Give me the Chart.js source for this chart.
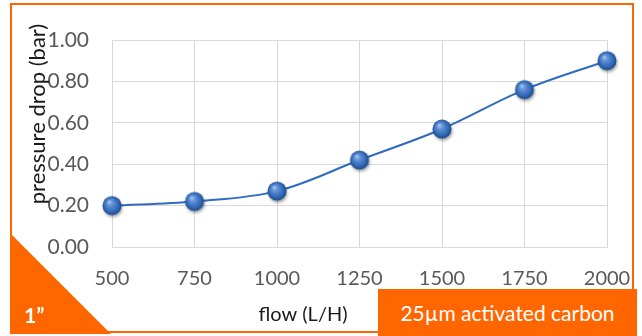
<!DOCTYPE html>
<html>
<head>
<meta charset="utf-8">
<script src="https://cdn.jsdelivr.net/npm/chart.js@4/dist/chart.umd.min.js"></script>
<style>
  html, body { margin: 0; padding: 0; background: #fff; }
  #wrap { position: relative; width: 642px; height: 336px; overflow: hidden; font-family: Lato, "Open Sans", sans-serif; }
  #chart { position: absolute; left: 0; top: 0; }
  #frame { position: absolute; left: 10px; top: 3px; width: 620px; height: 326px; border: 2.5px solid #FF6600; }
  #corner { position: absolute; left: 10px; top: 233px; width: 101px; height: 101px; background: #FF6600;
            clip-path: polygon(0 0, 0 100%, 100% 100%); }
  #size { position: absolute; left: 24px; top: 302px; color: #fff; font-size: 21px; font-weight: bold; }
  #media { position: absolute; left: 378px; top: 289px; width: 259px; height: 47px; background: #FF6600;
           color: #fff; font-size: 21px; line-height: 47px; text-align: center; }
</style>
</head>
<body>
<div id="wrap">
  <div id="frame"></div>
  <canvas id="chart" width="642" height="336"></canvas>
  <div id="corner"></div>
  <div id="size">1”</div>
  <div id="media">25µm activated carbon</div>
</div>
<script>
const flowLabels = ['500', '750', '1000', '1250', '1500', '1750', '2000'];
const pressureDrop = [0.20, 0.22, 0.27, 0.42, 0.57, 0.76, 0.90];
const xTitle = 'flow (L/H)';
const yTitle = 'pressure drop (bar)';

// shaded sphere used as marker
function makeSphere() {
  const c = document.createElement('canvas');
  c.width = 28; c.height = 28;
  const g = c.getContext('2d');
  g.save();
  g.shadowColor = 'rgba(0,0,0,0.35)';
  g.shadowBlur = 3;
  g.shadowOffsetX = 1;
  g.shadowOffsetY = 2;
  const grad = g.createRadialGradient(11, 10, 0, 14, 14, 10);
  grad.addColorStop(0, '#B4CDF0');
  grad.addColorStop(0.3, '#5F92D8');
  grad.addColorStop(0.75, '#2F65B2');
  grad.addColorStop(1, '#1C467F');
  g.fillStyle = grad;
  g.beginPath();
  g.arc(14, 14, 9.5, 0, Math.PI * 2);
  g.fill();
  g.restore();
  return c;
}

const titles = {
  id: 'titles',
  afterDraw(chart) {
    const ctx = chart.ctx;
    ctx.save();
    ctx.fillStyle = '#1a1a1a';
    ctx.font = '20px Lato';
    ctx.textAlign = 'center';
    ctx.textBaseline = 'middle';
    ctx.fillText(xTitle, 303, 315);
    ctx.font = '22px Lato';
    ctx.translate(38, 114);
    ctx.rotate(-Math.PI / 2);
    ctx.fillText(yTitle, 0, 0);
    ctx.restore();
  }
};

new Chart(document.getElementById('chart'), {
  type: 'line',
  data: {
    labels: flowLabels,
    datasets: [{
      data: pressureDrop,
      borderColor: '#2F6BC0',
      borderWidth: 2,
      tension: 0.35,
      pointStyle: makeSphere(),
      pointRadius: 10
    }]
  },
  options: {
    responsive: false,
    animation: false,
    layout: { padding: { top: 40, right: 35, left: 0, bottom: 0 } },
    plugins: { legend: { display: false }, tooltip: { enabled: false } },
    scales: {
      x: {
        type: 'category',
        offset: false,
        grid: { color: '#D9D9D9', drawTicks: false },
        border: { color: '#D9D9D9' },
        ticks: { color: '#595959', font: { family: 'Lato', size: 20 }, padding: 20, maxRotation: 0 },
        afterFit(s) { s.height = 89; s.paddingLeft = 0; s.paddingRight = 0; }
      },
      y: {
        min: 0,
        max: 1,
        grid: { color: '#D9D9D9', drawTicks: false },
        border: { color: '#D9D9D9' },
        ticks: {
          stepSize: 0.2,
          color: '#595959',
          font: { family: 'Lato', size: 21 },
          padding: 23,
          callback: v => v.toFixed(2)
        },
        afterFit(s) { s.width = 112; }
      }
    }
  },
  plugins: [titles]
});
</script>
</body>
</html>
